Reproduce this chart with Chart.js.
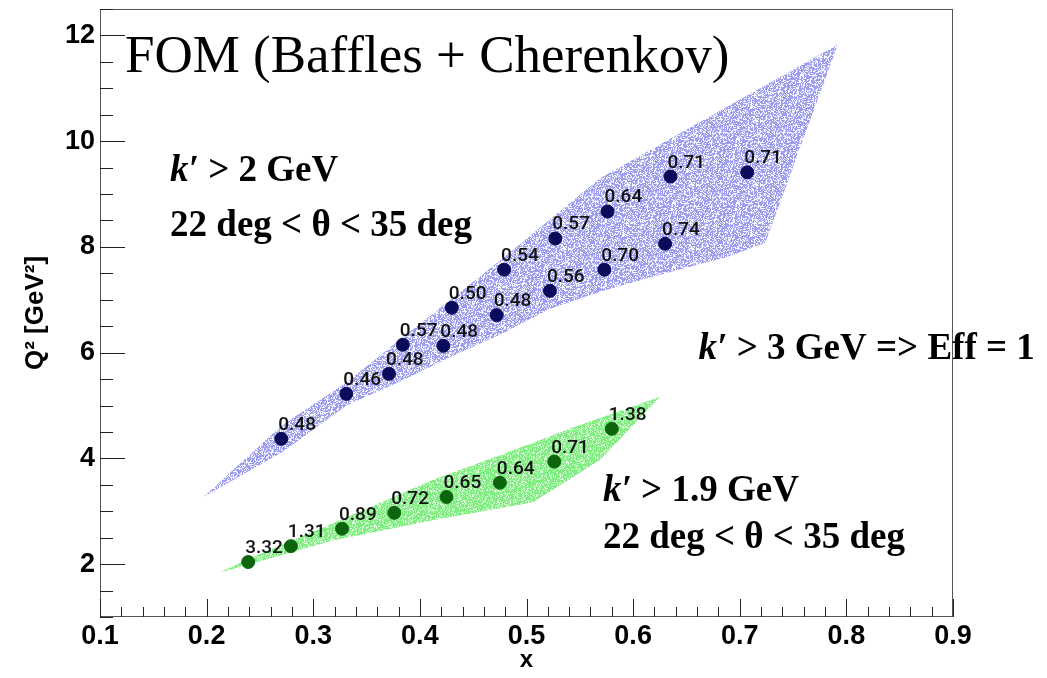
<!DOCTYPE html>
<html>
<head>
<meta charset="utf-8">
<script src="https://cdn.jsdelivr.net/npm/chart.js@4.4.1/dist/chart.umd.min.js"></script>
<style>
  html, body { margin: 0; padding: 0; background: #fff; }
  #wrap { width: 1047px; height: 678px; }
</style>
</head>
<body>
<div id="wrap"><canvas id="fom-chart"></canvas></div>
<script>
// FOM points, k' > 2 GeV (blue) and k' > 1.9 GeV (green)
const blueX = [0.270, 0.331, 0.371, 0.384, 0.422, 0.430, 0.472, 0.479, 0.522, 0.573, 0.527, 0.576, 0.630, 0.635, 0.707];
const blueY = [4.37, 5.22, 5.60, 6.15, 6.13, 6.85, 6.71, 7.57, 7.17, 7.57, 8.16, 8.67, 8.06, 9.33, 9.41];
const blueFom = ['0.48', '0.46', '0.48', '0.57', '0.48', '0.50', '0.48', '0.54', '0.56', '0.70', '0.57', '0.64', '0.74', '0.71', '0.71'];

const greenX = [0.239, 0.279, 0.327, 0.376, 0.425, 0.475, 0.526, 0.580];
const greenY = [2.04, 2.34, 2.67, 2.97, 3.27, 3.54, 3.94, 4.56];
const greenFom = ['3.32', '1.31', '0.89', '0.72', '0.65', '0.64', '0.71', '1.38'];

// outlines of the generated event regions
const blueRegionX = [0.197, 0.271, 0.332, 0.381, 0.475, 0.569, 0.792, 0.724, 0.688, 0.632, 0.572, 0.522, 0.475, 0.431, 0.381, 0.332, 0.271, 0.197];
const blueRegionY = [3.27, 4.63, 5.45, 6.24, 7.74, 9.30, 11.83, 8.08, 7.81, 7.51, 7.17, 6.83, 6.34, 5.94, 5.45, 5.01, 4.12, 3.27];
const greenRegionX = [0.211, 0.241, 0.319, 0.412, 0.475, 0.538, 0.625, 0.569, 0.506, 0.412, 0.319, 0.211];
const greenRegionY = [1.83, 2.11, 2.78, 3.59, 4.06, 4.54, 5.16, 3.97, 3.17, 2.83, 2.45, 1.83];

const xTickValues = [0.1, 0.2, 0.3, 0.4, 0.5, 0.6, 0.7, 0.8, 0.9];
const yTickValues = [2, 4, 6, 8, 10, 12];

const NAVY = '#0b0b5c';
const DARK_GREEN = '#0c650c';

function toPoints(xs, ys) {
    return xs.map((x, i) => ({ x: x, y: ys[i] }));
}

// speckled fill, like a dense scatter of generated events
function speckle(dot, gap, share) {
    const size = 64;
    const c = document.createElement('canvas');
    c.width = c.height = size;
    const g = c.getContext('2d');
    for (let i = 0; i < size; i++) {
        for (let j = 0; j < size; j++) {
            let h = Math.imul(i, 374761393) ^ Math.imul(j, 668265263);
            h = Math.imul(h ^ (h >>> 13), 1274126177);
            h = (h ^ (h >>> 16)) >>> 0;
            g.fillStyle = (h % 100) < share ? dot : gap;
            g.fillRect(i, j, 1, 1);
        }
    }
    return g.createPattern(c, 'repeat');
}

function drawRich(ctx, parts, x, y, size) {
    let cx = x;
    parts.forEach(p => {
        ctx.font = (p.italic ? 'italic ' : '') + 'bold ' + size + 'px "Liberation Serif", "Times New Roman", serif';
        ctx.fillText(p.t, cx, y);
        cx += ctx.measureText(p.t).width;
    });
}

const decorPlugin = {
    id: 'decor',
    afterDatasetsDraw(chart) {
        const ctx = chart.ctx;
        ctx.save();
        ctx.fillStyle = '#111';
        ctx.font = '500 19px Roboto, "Noto Sans", sans-serif';
        ctx.textAlign = 'left';
        ctx.textBaseline = 'alphabetic';
        [[0, blueFom], [1, greenFom]].forEach(([idx, labels]) => {
            chart.getDatasetMeta(idx).data.forEach((pt, i) => {
                ctx.fillText(labels[i], pt.x - 3, pt.y - 9);
            });
        });
        ctx.restore();
    },
    afterDraw(chart) {
        const ctx = chart.ctx;
        const area = chart.chartArea;
        const xs = chart.scales.x;
        const ys = chart.scales.y;
        ctx.save();

        // frame
        ctx.strokeStyle = '#555';
        ctx.lineWidth = 1;
        ctx.strokeRect(area.left + 0.5, area.top + 0.5, area.right - area.left - 1, area.bottom - area.top - 1);

        // inward ticks
        ctx.strokeStyle = '#222';
        ctx.beginPath();
        for (let k = 0; k <= 40; k++) {
            const v = 0.1 + k * 0.02;
            const px = Math.round(xs.getPixelForValue(v)) + 0.5;
            const len = k % 5 === 0 ? 18 : 10;
            ctx.moveTo(px, area.bottom);
            ctx.lineTo(px, area.bottom - len);
        }
        for (let k = 0; k <= 23; k++) {
            const v = 1 + k * 0.5;
            const py = Math.round(ys.getPixelForValue(v)) + 0.5;
            const len = v % 2 === 0 ? 25 : 13;
            ctx.moveTo(area.left, py);
            ctx.lineTo(area.left + len, py);
        }
        ctx.stroke();

        // title and cut annotations
        ctx.fillStyle = '#000';
        ctx.textAlign = 'left';
        ctx.textBaseline = 'alphabetic';
        ctx.font = '53px "Liberation Serif", "Times New Roman", serif';
        ctx.fillText('FOM (Baffles + Cherenkov)', xs.getPixelForValue(0.1234), ys.getPixelForValue(11.30));

        const notes = [
            { x: 0.1657, y: 9.24, parts: [{ t: 'k′', italic: true }, { t: ' > 2 GeV' }] },
            { x: 0.1657, y: 8.20, parts: [{ t: '22 deg < θ < 35 deg' }] },
            { x: 0.6614, y: 5.88, parts: [{ t: 'k′', italic: true }, { t: ' > 3 GeV => Eff = 1' }] },
            { x: 0.5717, y: 3.19, parts: [{ t: 'k′', italic: true }, { t: ' > 1.9 GeV' }] },
            { x: 0.5717, y: 2.30, parts: [{ t: '22 deg < θ < 35 deg' }] }
        ];
        notes.forEach(n => drawRich(ctx, n.parts, xs.getPixelForValue(n.x), ys.getPixelForValue(n.y), 37));
        ctx.restore();
    }
};

document.addEventListener('DOMContentLoaded', () => {
    const ctx = document.getElementById('fom-chart').getContext('2d');
    const axisFont = { family: '"Liberation Sans", Arial, sans-serif', size: 27, weight: 'bold' };

    new Chart(ctx, {
        type: 'scatter',
        data: {
            datasets: [
                {
                    label: "k' > 2 GeV",
                    data: toPoints(blueX, blueY),
                    backgroundColor: NAVY,
                    borderColor: NAVY,
                    pointRadius: 6.5,
                    pointHoverRadius: 6.5,
                    order: 1
                },
                {
                    label: "k' > 1.9 GeV",
                    data: toPoints(greenX, greenY),
                    backgroundColor: DARK_GREEN,
                    borderColor: DARK_GREEN,
                    pointRadius: 6.5,
                    pointHoverRadius: 6.5,
                    order: 1
                },
                {
                    label: 'region blue',
                    data: toPoints(blueRegionX, blueRegionY),
                    showLine: true,
                    fill: 'shape',
                    tension: 0,
                    pointRadius: 0,
                    borderWidth: 0,
                    borderColor: 'rgba(0,0,0,0)',
                    backgroundColor: speckle('rgb(158,158,238)', 'rgb(246,246,255)', 62),
                    order: 3
                },
                {
                    label: 'region green',
                    data: toPoints(greenRegionX, greenRegionY),
                    showLine: true,
                    fill: 'shape',
                    tension: 0,
                    pointRadius: 0,
                    borderWidth: 0,
                    borderColor: 'rgba(0,0,0,0)',
                    backgroundColor: speckle('rgb(128,238,128)', 'rgb(226,252,226)', 74),
                    order: 3
                }
            ]
        },
        options: {
            responsive: true,
            maintainAspectRatio: false,
            animation: false,
            layout: { padding: { left: 0, top: 9, right: 94, bottom: 0 } },
            plugins: {
                legend: { display: false },
                tooltip: { enabled: false }
            },
            scales: {
                x: {
                    type: 'linear',
                    min: 0.1,
                    max: 0.9,
                    afterBuildTicks: s => { s.ticks = xTickValues.map(v => ({ value: v })); },
                    afterFit: s => {
                        s.height = 61;
                        s.paddingLeft = 0;
                        s.paddingRight = 0;
                    },
                    grid: { display: false, drawTicks: false },
                    border: { display: false },
                    ticks: {
                        color: '#000',
                        font: axisFont,
                        padding: 3,
                        maxRotation: 0,
                        callback: v => v.toFixed(1)
                    },
                    title: {
                        display: true,
                        text: 'x',
                        color: '#000',
                        font: { family: '"Liberation Sans", Arial, sans-serif', size: 24, weight: 'bold' },
                        padding: { top: 0, bottom: 3 }
                    }
                },
                y: {
                    type: 'linear',
                    min: 1,
                    max: 12.5,
                    afterBuildTicks: s => { s.ticks = yTickValues.map(v => ({ value: v })); },
                    afterFit: s => {
                        s.width = 100;
                        s.paddingTop = 0;
                        s.paddingBottom = 0;
                    },
                    grid: { display: false, drawTicks: false },
                    border: { display: false },
                    ticks: {
                        color: '#000',
                        font: axisFont,
                        padding: 5,
                        callback: v => String(v)
                    },
                    title: {
                        display: true,
                        text: 'Q² [GeV²]',
                        color: '#000',
                        font: { family: '"Liberation Sans", Arial, sans-serif', size: 26, weight: 'bold' },
                        padding: { top: 20, bottom: 0 }
                    }
                }
            }
        },
        plugins: [decorPlugin]
    });
});
</script>
</body>
</html>
